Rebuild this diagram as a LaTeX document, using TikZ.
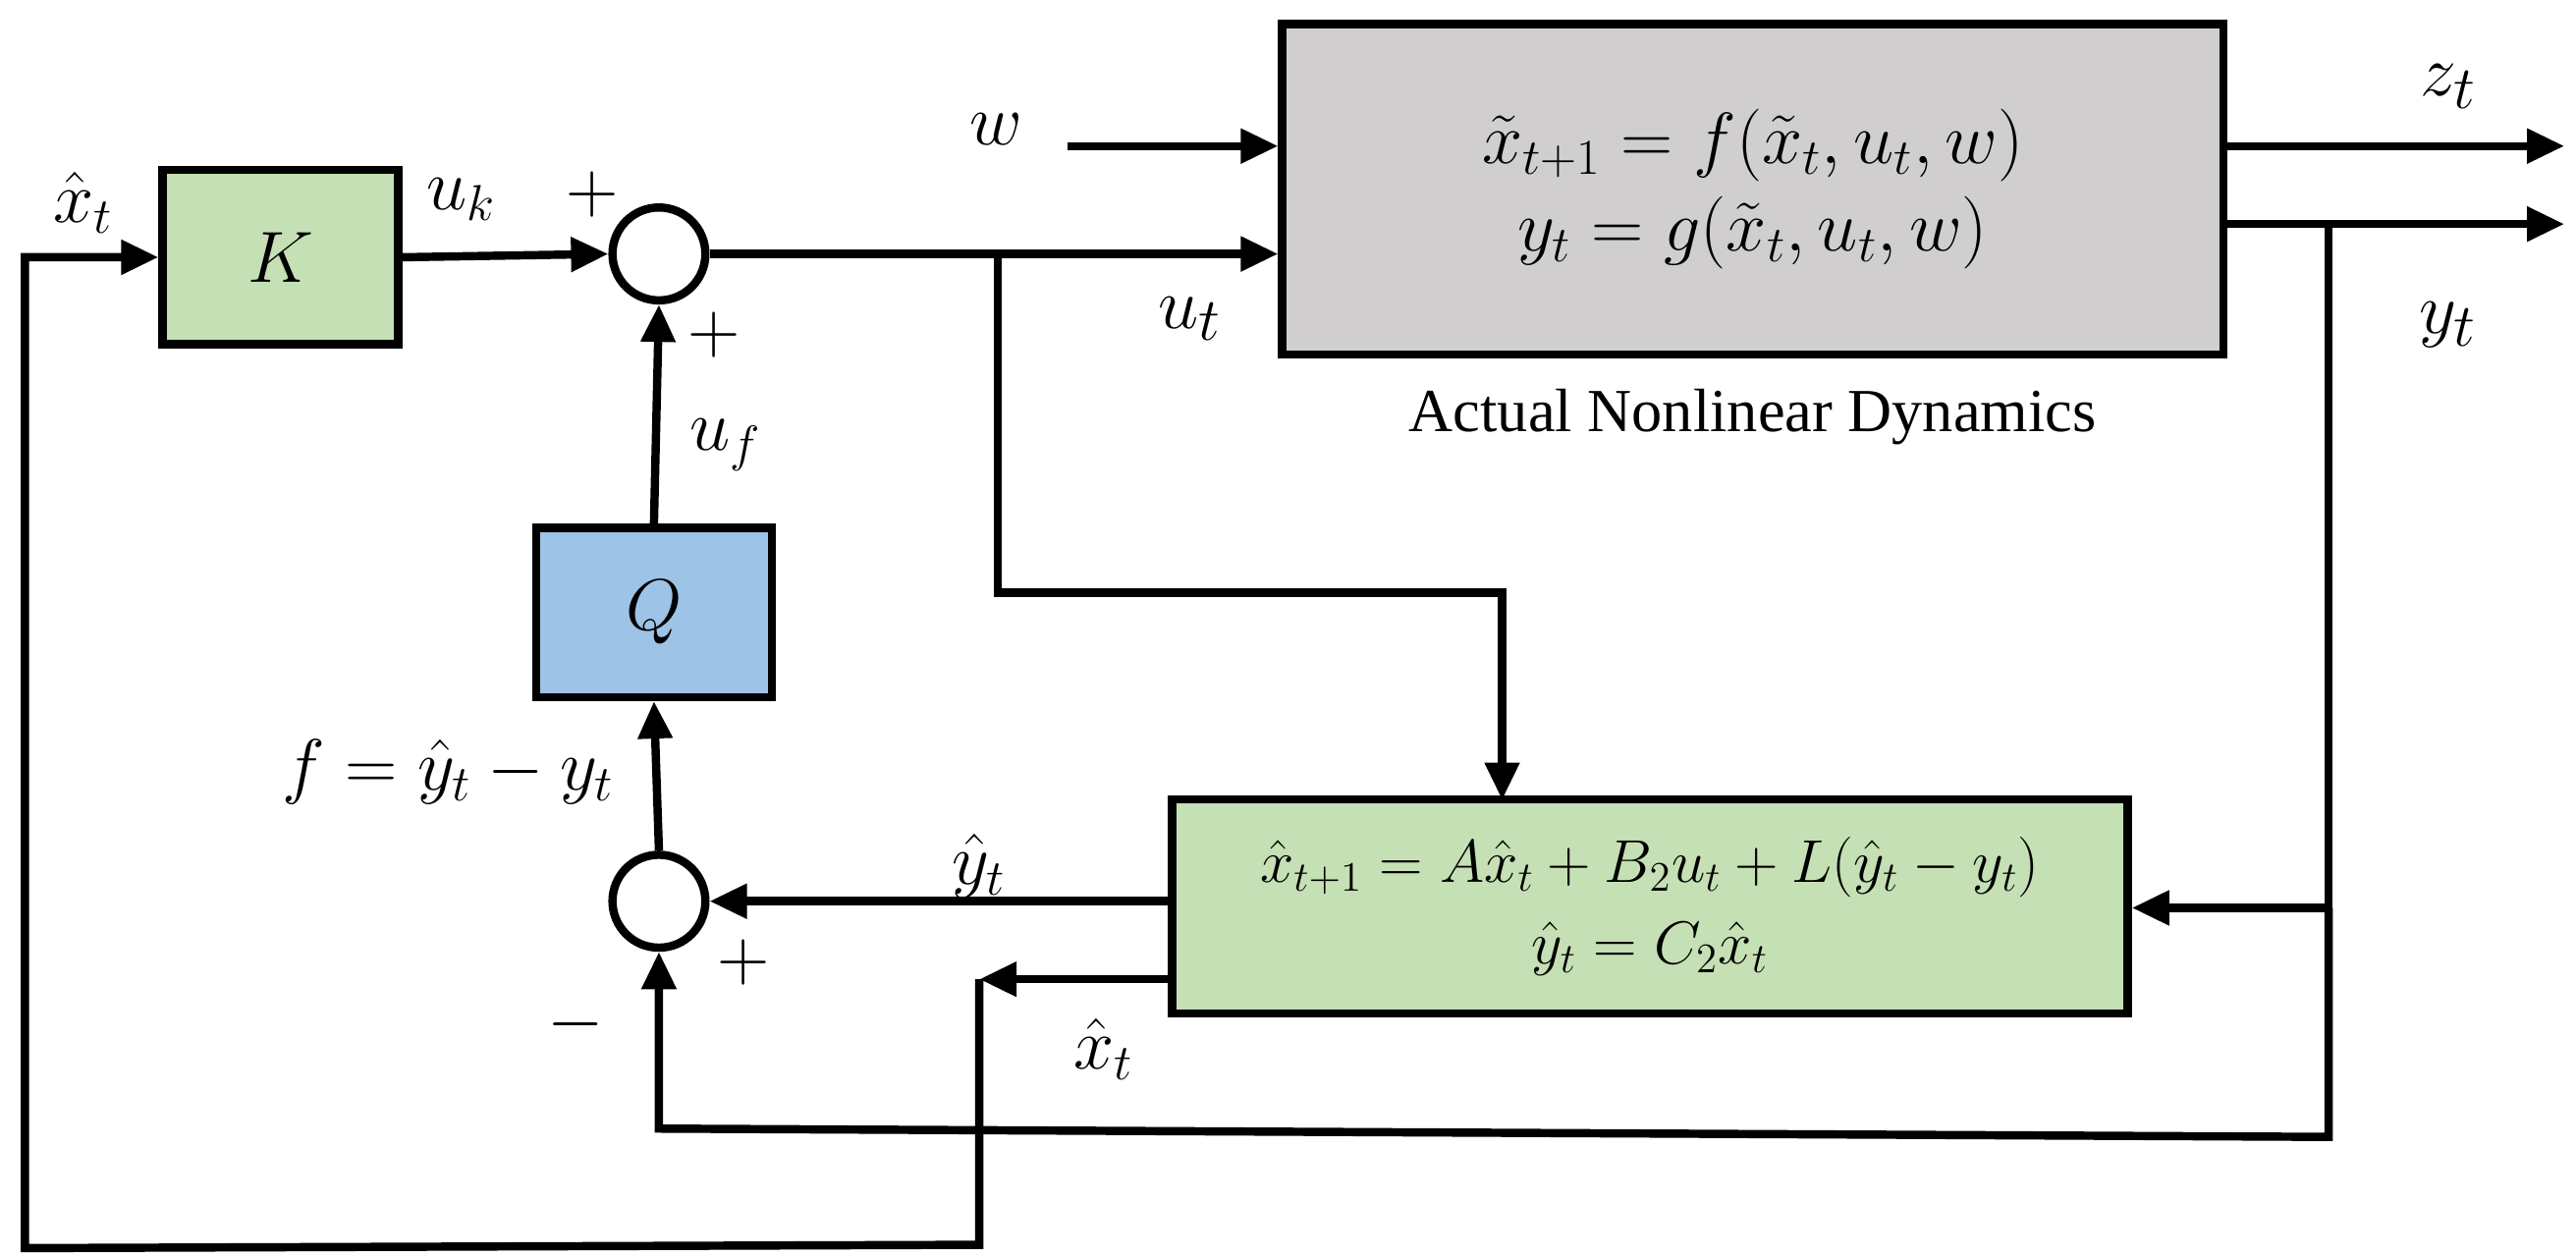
\documentclass[tikz,border=0pt]{standalone}
\usepackage{fontspec}
\newfontfamily\capfont{Liberation Serif}
\usetikzlibrary{positioning,arrows.meta,calc}
\definecolor{boxgreen}{HTML}{C5E0B4}
\definecolor{boxblue}{HTML}{9DC3E6}
\definecolor{boxgray}{HTML}{D0CECE}
\tikzset{
  blk/.style={rectangle,draw=black,line width=0.1cm,inner sep=0pt},
  sumnode/.style={circle,draw=black,line width=0.1cm,minimum size=1.12cm,inner sep=0pt},
  sig/.style={line width=0.1cm,-{Triangle[length=0.45cm,width=0.4cm]}},
  lbl/.style={font=\fontsize{24}{28}\selectfont,inner sep=0pt},
  biglbl/.style={font=\fontsize{28}{32}\selectfont,inner sep=0pt}
}
\begin{document}
\begin{tikzpicture}[x=0.02cm,y=-0.02cm]
    \useasboundingbox (0,0) rectangle (1552,757);

    \node (K) [blk,fill=boxgreen,minimum width=2.84cm,minimum height=2.1cm,lbl] at (169,155) {$K$};
    \node (sum1) [sumnode] at (397,153) {};
    \node (Q) [blk,fill=boxblue,minimum width=2.84cm,minimum height=2.04cm,lbl] at (394,369) {$Q$};
    \node (sum2) [sumnode] at (397,543) {};
    \node (plant) [blk,fill=boxgray,minimum width=11.34cm,minimum height=3.98cm,lbl,align=center] at (1056,114)
        {$\tilde{x}_{t+1}=f(\tilde{x}_t,u_t,w)$\\[2pt] $y_t=g(\tilde{x}_t,u_t,w)$};
    \node (plantlabel) [below=0.25cm of plant,font=\capfont\fontsize{21}{24}\selectfont] {Actual Nonlinear Dynamics};
    \node (obs) [blk,fill=boxgreen,minimum width=11.52cm,minimum height=2.58cm,align=center,
        font=\fontsize{22}{26}\selectfont] at (994,546)
        {$\hat{x}_{t+1}=A\hat{x}_t+B_2u_t+L(\hat{y}_t-y_t)$\\[2pt] $\hat{y}_t=C_2\hat{x}_t$};

    % helper points
    \coordinate (wstart) at (643,88);
    \coordinate (ubranch) at (601,153);
    \coordinate (ydrop) at (1403,135);
    \coordinate (zend) at (1545,88);
    \coordinate (yend) at (1545,135);
    \coordinate (xhatturn) at (590,590);

    % Arrows
    \draw[sig] (K.east) -- (sum1.west);
    \draw[sig] (Q.north) -- (sum1.south);
    \draw[sig] (sum2.north) -- (Q.south);
    \draw[sig] (wstart) -- (wstart -| plant.west);
    \draw[sig] (sum1.east) -- (sum1.east -| plant.west);
    \draw[sig] (ubranch) |- (905,357) -- (905,482);
    \draw[sig] (plant.east |- zend) -- (zend);
    \draw[sig] (plant.east |- yend) -- (yend);
    \draw[sig] (ydrop) -- (1403,547) -- (obs.east |- 0,547);
    \draw[sig] (1403,547) -- (1403,685) -- (397,680) -- (sum2.south);
    \draw[sig] (obs.west |- sum2) -- (sum2.east);
    \draw[sig] (obs.west |- xhatturn) -- (xhatturn);
    \draw[sig] (xhatturn) -- (590,750) -- (15,752) -- (15,155) -- (K.west);

    % Labels
    \node (lxk) [lbl] at (50,122) {$\hat{x}_t$};
    \node (luk) [lbl] at (278,120) {$u_k$};
    \node (lp1) [lbl] at (357,117) {$+$};
    \node (lp2) [lbl] at (430,202) {$+$};
    \node (luf) [lbl] at (437,268) {$u_f$};
    \node (lw) [biglbl] at (600,78) {$w$};
    \node (lut) [biglbl] at (717,192) {$u_t$};
    \node (lzt) [biglbl] at (1475,52) {$z_t$};
    \node (lyt) [biglbl] at (1475,196) {$y_t$};
    \node (lf) [lbl] at (270,465) {$f=\hat{y}_t-y_t$};
    \node (lyh) [lbl] at (590,522) {$\hat{y}_t$};
    \node (lp3) [lbl] at (448,580) {$+$};
    \node (lm) [lbl] at (347,617) {$-$};
    \node (lxh) [lbl] at (665,632) {$\hat{x}_t$};
\end{tikzpicture}
\end{document}
